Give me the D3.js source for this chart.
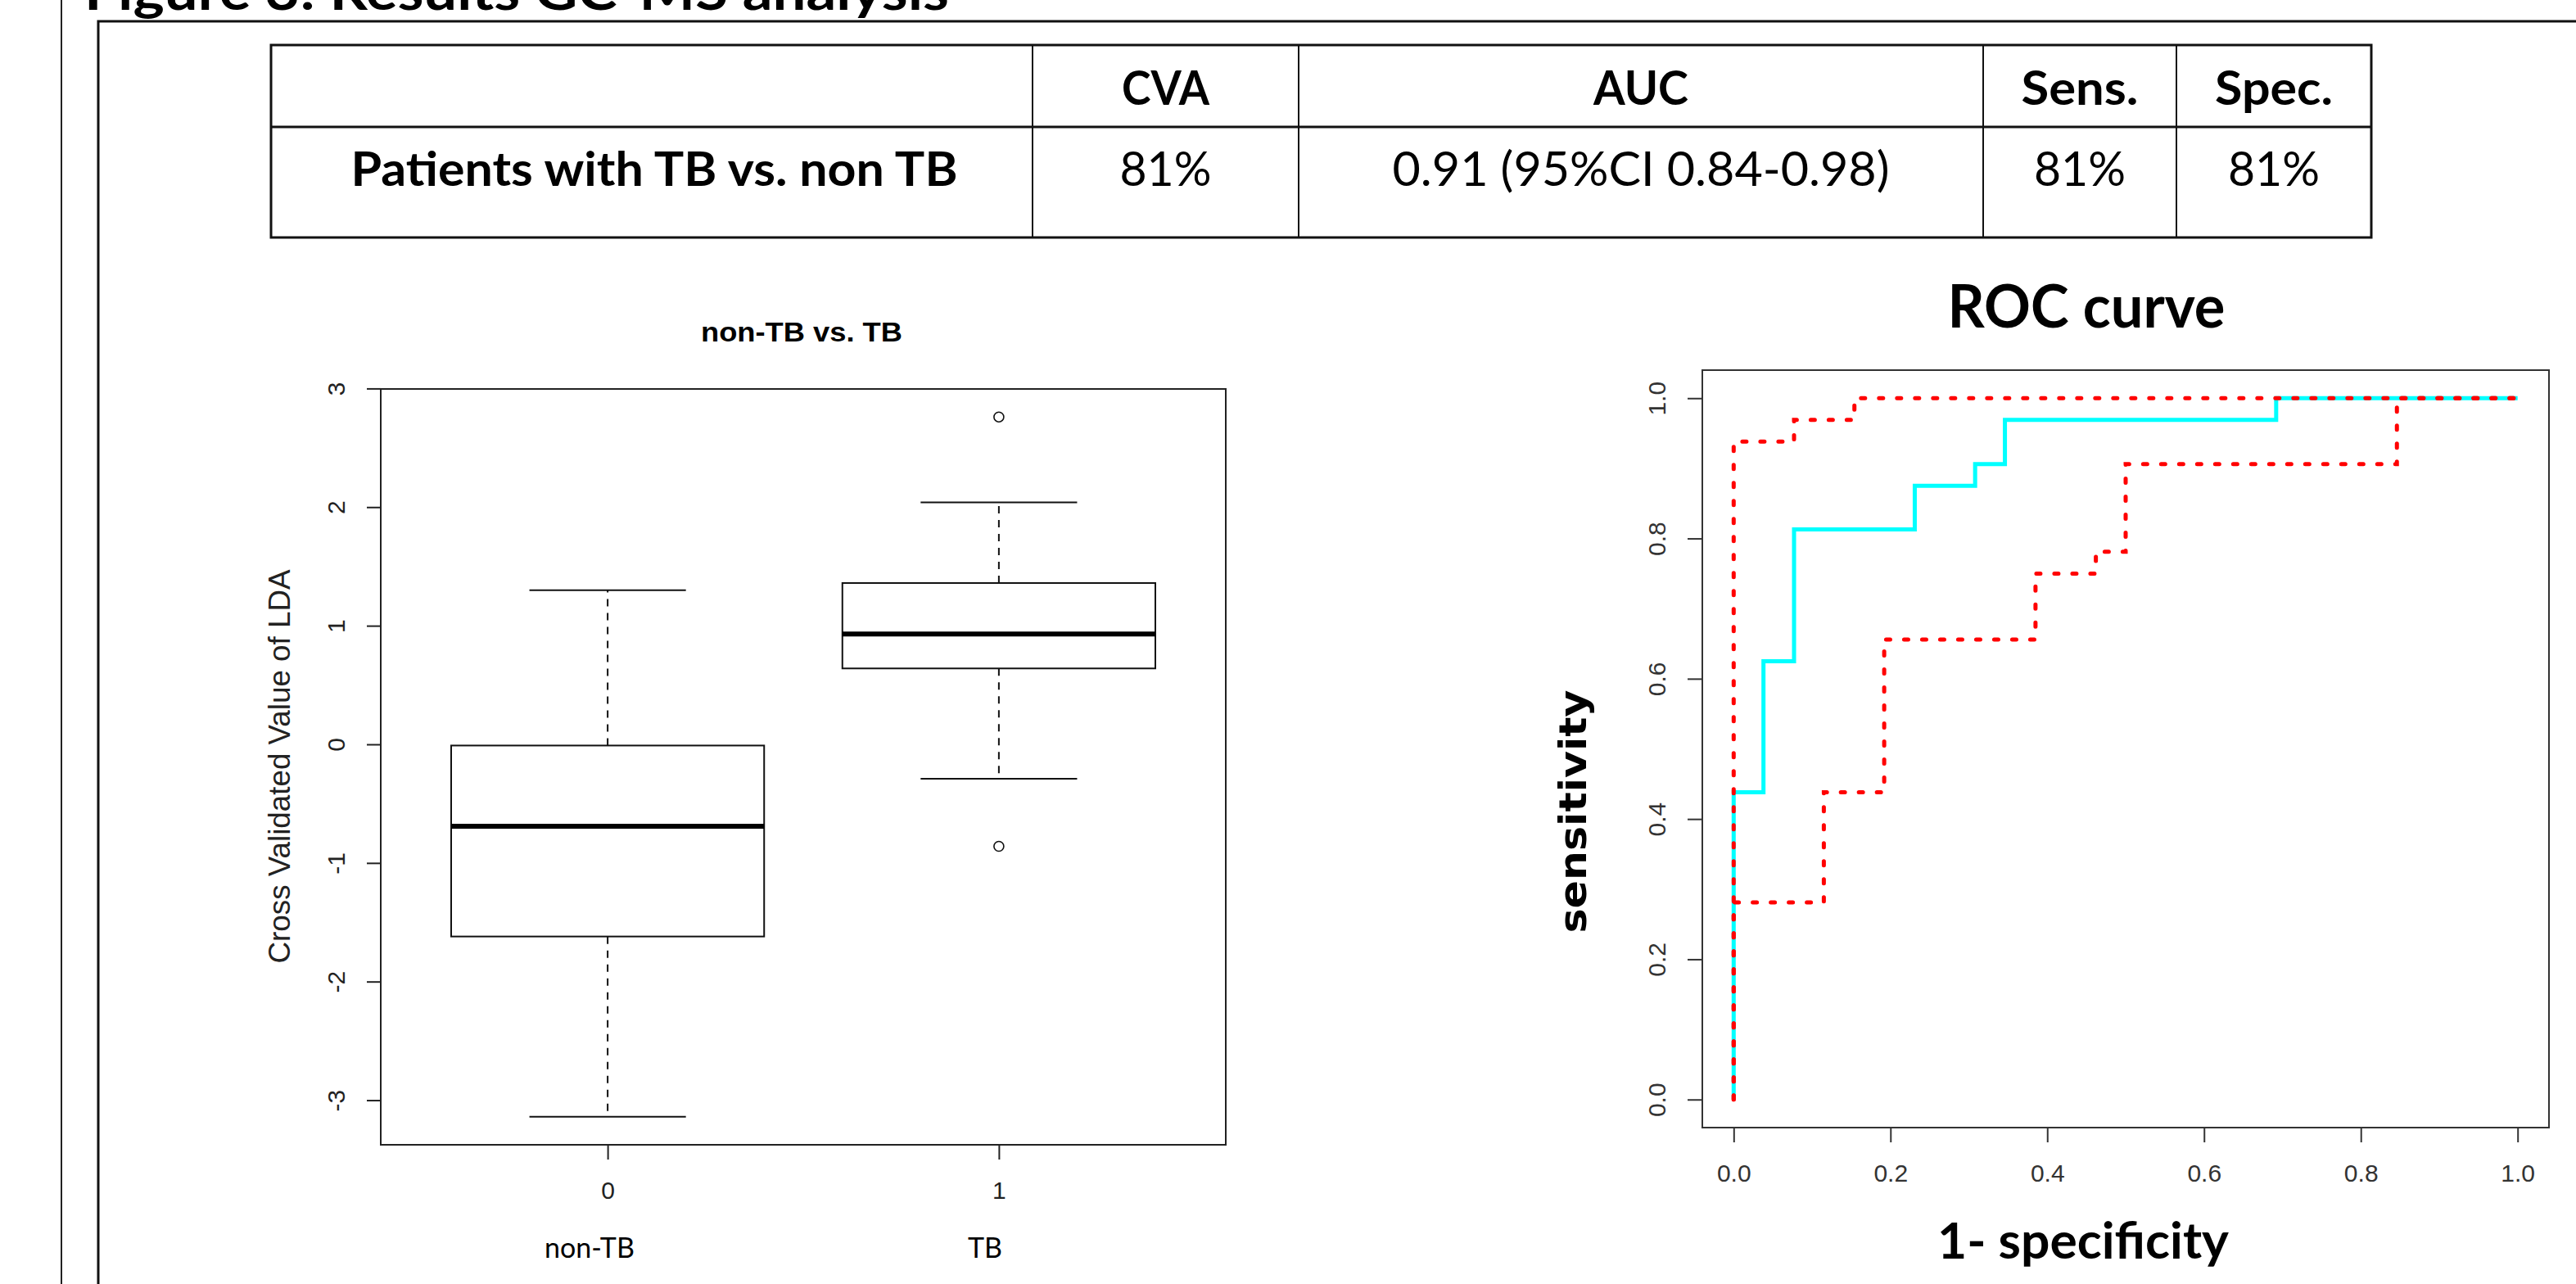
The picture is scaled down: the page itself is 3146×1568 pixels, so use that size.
<!DOCTYPE html>
<html>
<head>
<meta charset="utf-8">
<title>Figure 3 GC-MS</title>
<style>
    html, body { margin: 0; padding: 0; background: #fff; }
    svg { display: block; }
    .cal { font-family: Lato, "Open Sans", sans-serif; }
    .rfont { font-family: "Liberation Sans", Arial, sans-serif; }
</style>
</head>
<body>
<script src="https://d3js.org/d3.v7.min.js"></script>
<script>
    // ---- data ----
    var tableHead = ["", "CVA", "AUC", "Sens.", "Spec."];
    var tableRow = ["Patients with TB vs. non TB", "81%", "0.91 (95%CI 0.84-0.98)", "81%", "81%"];

    var groups = ["0", "1"];
    var groupNames = ["non-TB", "TB"];
    var lowWhisker = [-3.14, -0.29];
    var q1 = [-1.62, 0.64];
    var median = [-0.69, 0.93];
    var q3 = [-0.01, 1.36];
    var highWhisker = [1.30, 2.04];
    var outliers = [[], [2.76, -0.86]];
    var boxTicks = [-3, -2, -1, 0, 1, 2, 3];

    // step corners of the ROC curve and its confidence band
    var rocFpr = [0, 0.038, 0.077, 0.231, 0.308, 0.346, 0.692, 1];
    var rocTpr = [0, 0.438, 0.625, 0.813, 0.875, 0.906, 0.969, 1];
    var ciLowFpr = [0, 0.115, 0.192, 0.385, 0.462, 0.5, 0.846, 1];
    var ciLowTpr = [0, 0.281, 0.438, 0.656, 0.75, 0.781, 0.906, 1];
    var ciHighFpr = [0, 0.077, 0.154, 1];
    var ciHighTpr = [0, 0.938, 0.969, 1];
    var rocTicks = [0, 0.2, 0.4, 0.6, 0.8, 1.0];

    // ---- drawing ----
    var svg = d3.select("body").append("svg")
        .attr("width", 3146)
        .attr("height", 1568);

    svg.append("line")
        .attr("x1", 75).attr("y1", 0).attr("x2", 75).attr("y2", 1568)
        .attr("stroke", "#222").attr("stroke-width", 2);
    svg.append("path")
        .attr("d", "M120,1568V26H3146")
        .attr("fill", "none").attr("stroke", "#111").attr("stroke-width", 3);

    svg.append("text").attr("class", "cal")
        .attr("x", 103).attr("y", 12)
        .attr("font-size", 64).attr("font-weight", "bold")
        .attr("textLength", 1056).attr("lengthAdjust", "spacingAndGlyphs")
        .text("Figure 3: Results GC-MS analysis");

    // table
    var colEdges = [331, 1261, 1586, 2422, 2658, 2896];
    var rowEdges = [55, 155, 290];
    var headWidths = [0, 107, 116, 143, 144];
    var rowWidths = [741, 112, 607, 112, 112];
    var table = svg.append("g");

    table.selectAll("line.col")
        .data(colEdges.slice(1, -1))
        .enter().append("line")
        .attr("x1", d => d).attr("x2", d => d)
        .attr("y1", rowEdges[0]).attr("y2", rowEdges[2])
        .attr("stroke", "#111").attr("stroke-width", 2);
    table.append("line")
        .attr("x1", colEdges[0]).attr("x2", colEdges[5])
        .attr("y1", rowEdges[1]).attr("y2", rowEdges[1])
        .attr("stroke", "#111").attr("stroke-width", 3);
    table.append("rect")
        .attr("x", colEdges[0]).attr("y", rowEdges[0])
        .attr("width", colEdges[5] - colEdges[0]).attr("height", rowEdges[2] - rowEdges[0])
        .attr("fill", "none").attr("stroke", "#111").attr("stroke-width", 3);

    tableHead.forEach((t, i) => {
        if (!t) return;
        table.append("text").attr("class", "cal")
            .attr("x", (colEdges[i] + colEdges[i + 1]) / 2).attr("y", 128)
            .attr("text-anchor", "middle").attr("font-size", 58).attr("font-weight", "bold")
            .attr("textLength", headWidths[i]).attr("lengthAdjust", "spacingAndGlyphs")
            .text(t);
    });
    tableRow.forEach((t, i) => {
        table.append("text").attr("class", "cal")
            .attr("x", i == 0 ? 799 : (colEdges[i] + colEdges[i + 1]) / 2).attr("y", 227)
            .attr("text-anchor", "middle").attr("font-size", 58)
            .attr("font-weight", i == 0 ? "bold" : "normal")
            .attr("textLength", rowWidths[i]).attr("lengthAdjust", "spacingAndGlyphs")
            .text(t);
    });

    // ---- box plot ----
    var bx = d3.scaleLinear().domain([-0.58, 1.58]).range([465, 1497]);
    var by = d3.scaleLinear().domain([-3.376, 2.996]).range([1398, 475]);
    var bp = svg.append("g");
    var half = bx(0.4) - bx(0);
    var staple = bx(0.2) - bx(0);

    groups.forEach((g, i) => {
        var cx = bx(i);
        bp.append("line").attr("x1", cx).attr("x2", cx)
            .attr("y1", by(q3[i])).attr("y2", by(highWhisker[i]))
            .attr("stroke", "#111").attr("stroke-width", 2).attr("stroke-dasharray", "9,8");
        bp.append("line").attr("x1", cx).attr("x2", cx)
            .attr("y1", by(q1[i])).attr("y2", by(lowWhisker[i]))
            .attr("stroke", "#111").attr("stroke-width", 2).attr("stroke-dasharray", "9,8");
        [highWhisker[i], lowWhisker[i]].forEach(v => {
            bp.append("line").attr("x1", cx - staple).attr("x2", cx + staple)
                .attr("y1", by(v)).attr("y2", by(v))
                .attr("stroke", "#111").attr("stroke-width", 2);
        });
        bp.append("rect")
            .attr("x", cx - half).attr("y", by(q3[i]))
            .attr("width", 2 * half).attr("height", by(q1[i]) - by(q3[i]))
            .attr("fill", "#fff").attr("stroke", "#111").attr("stroke-width", 2);
        bp.append("line").attr("x1", cx - half).attr("x2", cx + half)
            .attr("y1", by(median[i])).attr("y2", by(median[i]))
            .attr("stroke", "#000").attr("stroke-width", 6);
        bp.selectAll(null).data(outliers[i]).enter().append("circle")
            .attr("cx", cx).attr("cy", d => by(d)).attr("r", 6)
            .attr("fill", "none").attr("stroke", "#111").attr("stroke-width", 1.6);
    });

    bp.append("rect")
        .attr("x", bx(-0.58)).attr("y", by(2.996))
        .attr("width", bx(1.58) - bx(-0.58)).attr("height", by(-3.376) - by(2.996))
        .attr("fill", "none").attr("stroke", "#222").attr("stroke-width", 2);

    var byAxis = bp.append("g").attr("class", "rfont")
        .attr("transform", "translate(" + bx(-0.58) + ",0)")
        .call(d3.axisLeft(by).tickValues(boxTicks).tickSize(17).tickSizeOuter(0)
            .tickFormat(d => String(d)));
    byAxis.select(".domain").remove();
    byAxis.selectAll("line").attr("stroke", "#222").attr("stroke-width", 2);
    byAxis.selectAll("text")
        .attr("x", null).attr("dy", null)
        .attr("transform", "translate(-44,0) rotate(-90)")
        .attr("text-anchor", "middle").attr("font-size", 30).attr("fill", "#222");

    var bxAxis = bp.append("g").attr("class", "rfont")
        .attr("transform", "translate(0," + by(-3.376) + ")")
        .call(d3.axisBottom(bx).tickValues([0, 1]).tickSize(18).tickSizeOuter(0)
            .tickFormat((d, i) => groups[i]));
    bxAxis.select(".domain").remove();
    bxAxis.selectAll("line").attr("stroke", "#222").attr("stroke-width", 2);
    bxAxis.selectAll("text")
        .attr("y", null).attr("dy", null)
        .attr("transform", "translate(0,66)")
        .attr("font-size", 30).attr("fill", "#222");

    var nameX = [720, 1203];
    groupNames.forEach((n, i) => {
        bp.append("text").attr("class", "cal")
            .attr("x", nameX[i]).attr("y", 1536)
            .attr("text-anchor", "middle").attr("font-size", 34)
            .text(n);
    });

    bp.append("text").attr("class", "rfont")
        .attr("x", 979).attr("y", 417)
        .attr("text-anchor", "middle").attr("font-size", 34).attr("font-weight", "bold")
        .attr("textLength", 246).attr("lengthAdjust", "spacingAndGlyphs")
        .text("non-TB vs. TB");

    bp.append("text").attr("class", "rfont")
        .attr("transform", "translate(354,936) rotate(-90)")
        .attr("text-anchor", "middle").attr("font-size", 36).attr("fill", "#222")
        .attr("textLength", 481).attr("lengthAdjust", "spacingAndGlyphs")
        .text("Cross Validated Value of LDA");

    // ---- ROC curve ----
    var rx = d3.scaleLinear().domain([-0.04, 1.04]).range([2079, 3113]);
    var ry = d3.scaleLinear().domain([-0.04, 1.04]).range([1377, 452]);
    var roc = svg.append("g");

    var stepLine = d3.line()
        .x(d => rx(d[0])).y(d => ry(d[1]))
        .curve(d3.curveStepBefore);

    roc.append("path")
        .attr("d", stepLine(d3.zip(rocFpr, rocTpr)))
        .attr("fill", "none").attr("stroke", "#00FFFF").attr("stroke-width", 5);
    [d3.zip(ciLowFpr, ciLowTpr), d3.zip(ciHighFpr, ciHighTpr)].forEach(pts => {
        roc.append("path")
            .attr("d", stepLine(pts))
            .attr("fill", "none").attr("stroke", "#FF0000").attr("stroke-width", 5)
            .attr("stroke-linecap", "round").attr("stroke-dasharray", "5,17");
    });

    roc.append("rect")
        .attr("x", rx(-0.04)).attr("y", ry(1.04))
        .attr("width", rx(1.04) - rx(-0.04)).attr("height", ry(-0.04) - ry(1.04))
        .attr("fill", "none").attr("stroke", "#333").attr("stroke-width", 2);

    var ryAxis = roc.append("g").attr("class", "rfont")
        .attr("transform", "translate(" + rx(-0.04) + ",0)")
        .call(d3.axisLeft(ry).tickValues(rocTicks).tickSize(18).tickSizeOuter(0)
            .tickFormat(d3.format(".1f")));
    ryAxis.select(".domain").remove();
    ryAxis.selectAll("line").attr("stroke", "#333").attr("stroke-width", 2);
    ryAxis.selectAll("text")
        .attr("x", null).attr("dy", null)
        .attr("transform", "translate(-45,0) rotate(-90)")
        .attr("text-anchor", "middle").attr("font-size", 30).attr("fill", "#333");

    var rxAxis = roc.append("g").attr("class", "rfont")
        .attr("transform", "translate(0," + ry(-0.04) + ")")
        .call(d3.axisBottom(rx).tickValues(rocTicks).tickSize(18).tickSizeOuter(0)
            .tickFormat(d3.format(".1f")));
    rxAxis.select(".domain").remove();
    rxAxis.selectAll("line").attr("stroke", "#333").attr("stroke-width", 2);
    rxAxis.selectAll("text")
        .attr("y", null).attr("dy", null)
        .attr("transform", "translate(0,66)")
        .attr("font-size", 30).attr("fill", "#333");

    roc.append("text").attr("class", "cal")
        .attr("x", 2548).attr("y", 400)
        .attr("text-anchor", "middle").attr("font-size", 72).attr("font-weight", "bold")
        .attr("textLength", 339).attr("lengthAdjust", "spacingAndGlyphs")
        .text("ROC curve");

    roc.append("text").attr("class", "cal")
        .attr("x", 2544).attr("y", 1537)
        .attr("text-anchor", "middle").attr("font-size", 62).attr("font-weight", "bold")
        .attr("textLength", 356).attr("lengthAdjust", "spacingAndGlyphs")
        .text("1- specificity");

    roc.append("text")
        .attr("font-family", "'DejaVu Sans', Verdana, sans-serif")
        .attr("transform", "translate(1937,991) rotate(-90)")
        .attr("text-anchor", "middle").attr("font-size", 47).attr("font-weight", "bold")
        .attr("textLength", 297).attr("lengthAdjust", "spacingAndGlyphs")
        .text("sensitivity");
</script>
</body>
</html>
